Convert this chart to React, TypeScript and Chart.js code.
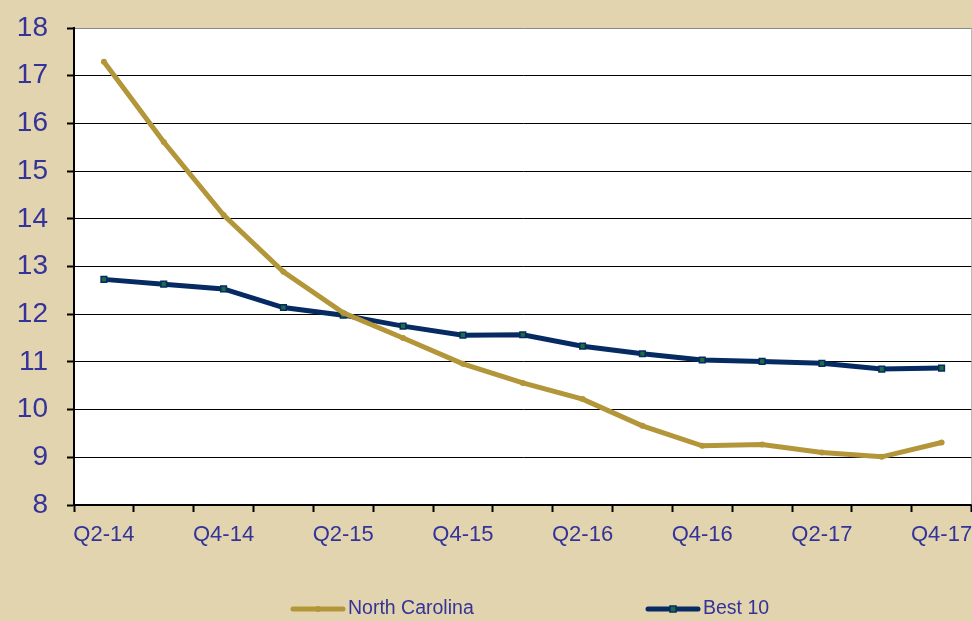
import React, { useEffect, useRef } from "react";
import { Chart, registerables } from "chart.js";

Chart.register(...registerables);

const categories = [
  "Q2-14", "Q3-14", "Q4-14", "Q1-15", "Q2-15", "Q3-15", "Q4-15", "Q1-16",
  "Q2-16", "Q3-16", "Q4-16", "Q1-17", "Q2-17", "Q3-17", "Q4-17",
];
const northCarolina = [17.29, 15.61, 14.08, 12.89, 12.03, 11.5, 10.96, 10.56, 10.22, 9.66, 9.24, 9.27, 9.1, 9.01, 9.31];
const best10 = [12.73, 12.63, 12.53, 12.14, 11.98, 11.75, 11.56, 11.57, 11.33, 11.17, 11.04, 11.01, 10.97, 10.85, 10.87];
const yMin = 8;
const yMax = 18;

const BG = "#E1D4AE";
const GOLD = "#B4963A";
const NAVY = "#062A62";
const MARK_GREEN = "#1E6B45";
const TEXT = "#333399";

const framePlugin = {
  id: "frame",
  beforeDraw(chart: any) {
    const { ctx, chartArea: a, width, height } = chart;
    ctx.save();
    ctx.fillStyle = BG;
    ctx.fillRect(0, 0, width, height);
    ctx.fillStyle = "#FFFFFF";
    ctx.fillRect(a.left, a.top, a.right - a.left, a.bottom - a.top);
    ctx.restore();
  },
  afterDatasetsDraw(chart: any) {
    const { ctx, chartArea: a } = chart;
    ctx.save();
    ctx.strokeStyle = "#8A8A8A";
    ctx.lineWidth = 1;
    ctx.beginPath();
    ctx.moveTo(a.right + 0.5, a.top);
    ctx.lineTo(a.right + 0.5, a.bottom);
    ctx.stroke();
    ctx.restore();
  },
  afterDraw(chart: any) {
    const { ctx } = chart;
    const y = 609;
    const items = [
      { label: chart.data.datasets[0].label, color: GOLD, x: 291, marker: "circle" },
      { label: chart.data.datasets[1].label, color: NAVY, x: 646, marker: "rect" },
    ];
    ctx.save();
    items.forEach((it) => {
      ctx.strokeStyle = it.color;
      ctx.lineWidth = 5;
      ctx.lineCap = "round";
      ctx.beginPath();
      ctx.moveTo(it.x + 2, y);
      ctx.lineTo(it.x + 52, y);
      ctx.stroke();
      const mx = it.x + 27;
      if (it.marker === "circle") {
        ctx.fillStyle = it.color;
        ctx.beginPath();
        ctx.arc(mx, y, 3, 0, Math.PI * 2);
        ctx.fill();
      } else {
        ctx.fillStyle = MARK_GREEN;
        ctx.strokeStyle = NAVY;
        ctx.lineWidth = 1.5;
        ctx.fillRect(mx - 3, y - 3, 6, 6);
        ctx.strokeRect(mx - 3, y - 3, 6, 6);
      }
      ctx.fillStyle = TEXT;
      ctx.font = "19.5px 'Liberation Sans', Arial, sans-serif";
      ctx.textBaseline = "middle";
      ctx.textAlign = "left";
      ctx.fillText(it.label, it.x + 57, y);
    });
    ctx.restore();
  },
};

const zeroPad = (s: any) => {
  s.paddingLeft = 0;
  s.paddingRight = 0;
  s.paddingTop = 0;
  s.paddingBottom = 0;
};

export default function App() {
  const ref = useRef<HTMLCanvasElement>(null);
  useEffect(() => {
    document.body.style.margin = "0";
    document.body.style.overflow = "hidden";
    const chart = new Chart(ref.current!, {
      type: "line",
      data: {
        labels: categories,
        datasets: [
          {
            label: "North Carolina",
            data: northCarolina,
            borderColor: GOLD,
            backgroundColor: GOLD,
            borderWidth: 5,
            pointStyle: "circle",
            pointRadius: 3,
            pointBorderWidth: 0,
            pointBackgroundColor: GOLD,
            tension: 0,
          },
          {
            label: "Best 10",
            data: best10,
            borderColor: NAVY,
            backgroundColor: MARK_GREEN,
            borderWidth: 5,
            pointStyle: "rect",
            pointRadius: 4,
            pointBorderWidth: 1.5,
            pointBorderColor: NAVY,
            pointBackgroundColor: MARK_GREEN,
            tension: 0,
          },
        ],
      },
      options: {
        animation: false,
        responsive: false,
        maintainAspectRatio: false,
        layout: { padding: { top: 28, right: 1, bottom: 0, left: 0 } },
        plugins: {
          legend: { display: false },
          tooltip: { enabled: false },
        },
        scales: {
          x: {
            type: "category",
            offset: true,
            grid: {
              offset: true,
              drawOnChartArea: false,
              drawTicks: true,
              tickLength: 7,
              tickColor: "#000000",
              tickWidth: 2,
            },
            border: { display: true, color: "#000000", width: 2 },
            ticks: {
              autoSkip: false,
              maxRotation: 0,
              minRotation: 0,
              color: TEXT,
              padding: 10,
              font: { family: "'Liberation Sans', Arial, sans-serif", size: 22 },
              callback: (_v: any, i: number) => (i % 2 === 0 ? categories[i] : ""),
            },
            afterFit: (s: any) => {
              s.height = 116;
              zeroPad(s);
            },
          },
          y: {
            min: yMin,
            max: yMax,
            grid: {
              color: (c: any) => (c.tick && c.tick.value === yMax ? "#888888" : "#000000"),
              lineWidth: 1,
              drawTicks: true,
              tickLength: 7,
              tickColor: "#000000",
              tickWidth: 2,
            },
            border: { display: true, color: "#000000", width: 2 },
            ticks: {
              stepSize: 1,
              color: TEXT,
              padding: 19,
              font: { family: "'Liberation Sans', Arial, sans-serif", size: 28 },
            },
            afterFit: (s: any) => {
              s.width = 74;
              zeroPad(s);
            },
          },
        },
      },
      plugins: [framePlugin],
    } as any);
    return () => chart.destroy();
  }, []);
  return (
    <div style={{ width: 972, height: 621, overflow: "hidden", background: BG }}>
      <canvas ref={ref} width={977} height={621} style={{ display: "block" }} />
    </div>
  );
}
